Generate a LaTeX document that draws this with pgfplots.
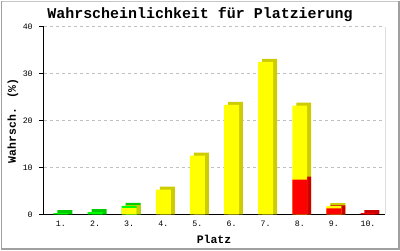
\documentclass[border=0pt]{standalone}
\usepackage{pgfplots}
\pgfplotsset{compat=1.18}
\usepackage{fontspec}
\setmainfont{Liberation Mono}
\setmonofont{Liberation Mono}
\definecolor{yfront}{HTML}{FFFF00}
\definecolor{ydark}{HTML}{CCCC00}
\definecolor{rfront}{HTML}{FF0000}
\definecolor{rdark}{HTML}{CC0000}
\definecolor{gfront}{HTML}{00FF00}
\definecolor{gdark}{HTML}{00CC00}
\definecolor{gridc}{HTML}{C0C0C0}
\definecolor{framec}{HTML}{A0A0A0}
\begin{document}
\begin{tikzpicture}
\begin{axis}[
  at={(0,0)}, anchor=south west,
  scale only axis, width=342pt, height=188pt,
  xmin=0.5, xmax=10.5, ymin=0, ymax=40,
  axis lines=left,
  axis line style={black, line width=1pt, -},
  ytick={0,10,20,30,40},
  xtick={1,...,10},
  xticklabels={1.,2.,3.,4.,5.,6.,7.,8.,9.,10.},
  /pgf/number format/assume math mode=true,
  ymajorgrids,
  grid style={gridc, line width=1pt, dash pattern=on 3pt off 3pt},
  tick align=outside, major tick length=5pt,
  xtick style={draw=none},
  ytick style={black, line width=1pt},
  tick label style={font=\fontsize{8.3}{9}\selectfont},
  yticklabel style={anchor=east, inner sep=0pt, xshift=-6pt},
  xticklabel style={anchor=base, inner sep=0pt, yshift=-7pt},
]
% shadows (side/top faces)
\addplot[ybar, bar width=15pt, bar shift=4pt, fill=gdark, draw=none] coordinates {(1,0.94) (2,1.14) (3,2.49)};
\addplot[ybar, bar width=15pt, bar shift=4pt, fill=ydark, draw=none] coordinates {(3,1.99) (4,5.94) (5,13.19) (6,24.04) (7,33.19) (8,23.84) (9,2.44)};
\addplot[ybar, bar width=15pt, bar shift=4pt, fill=rdark, draw=none] coordinates {(8,8.09) (9,1.94) (10,0.94)};
% front faces
\addplot[ybar, bar width=15pt, bar shift=0pt, fill=gfront, draw=none] coordinates {(1,0.3) (2,0.5) (3,1.85)};
\addplot[ybar, bar width=15pt, bar shift=0pt, fill=yfront, draw=none] coordinates {(3,1.35) (4,5.3) (5,12.55) (6,23.4) (7,32.55) (8,23.2) (9,1.8)};
\addplot[ybar, bar width=15pt, bar shift=0pt, fill=rfront, draw=none] coordinates {(8,7.45) (9,1.3) (10,0.3)};
\draw[black, line width=1pt] (axis cs:10.5,0) -- (axis cs:10.5,40);
\end{axis}
\node[anchor=base, inner sep=0pt, font=\bfseries\fontsize{15}{16}\selectfont] at (156.5pt,196pt) {Wahrscheinlichkeit für Platzierung};
\node[anchor=base, inner sep=0pt, font=\bfseries\fontsize{11.5}{12}\selectfont] at (170.5pt,-28.7pt) {Platz};
\node[anchor=center, rotate=90, inner sep=0pt, font=\bfseries\fontsize{11.5}{12}\selectfont] at (-31pt,94pt) {Wahrsch. (\%)};
\draw[framec!60, line width=1pt] (-42.5pt,213.5pt) -- (356pt,213.5pt);
\draw[framec, line width=1pt] (-42.5pt,213.5pt) -- (-42.5pt,-35pt);
\draw[framec, line width=2pt] (-43pt,-35pt) -- (356pt,-35pt) -- (356pt,214pt);
\end{tikzpicture}
\end{document}
